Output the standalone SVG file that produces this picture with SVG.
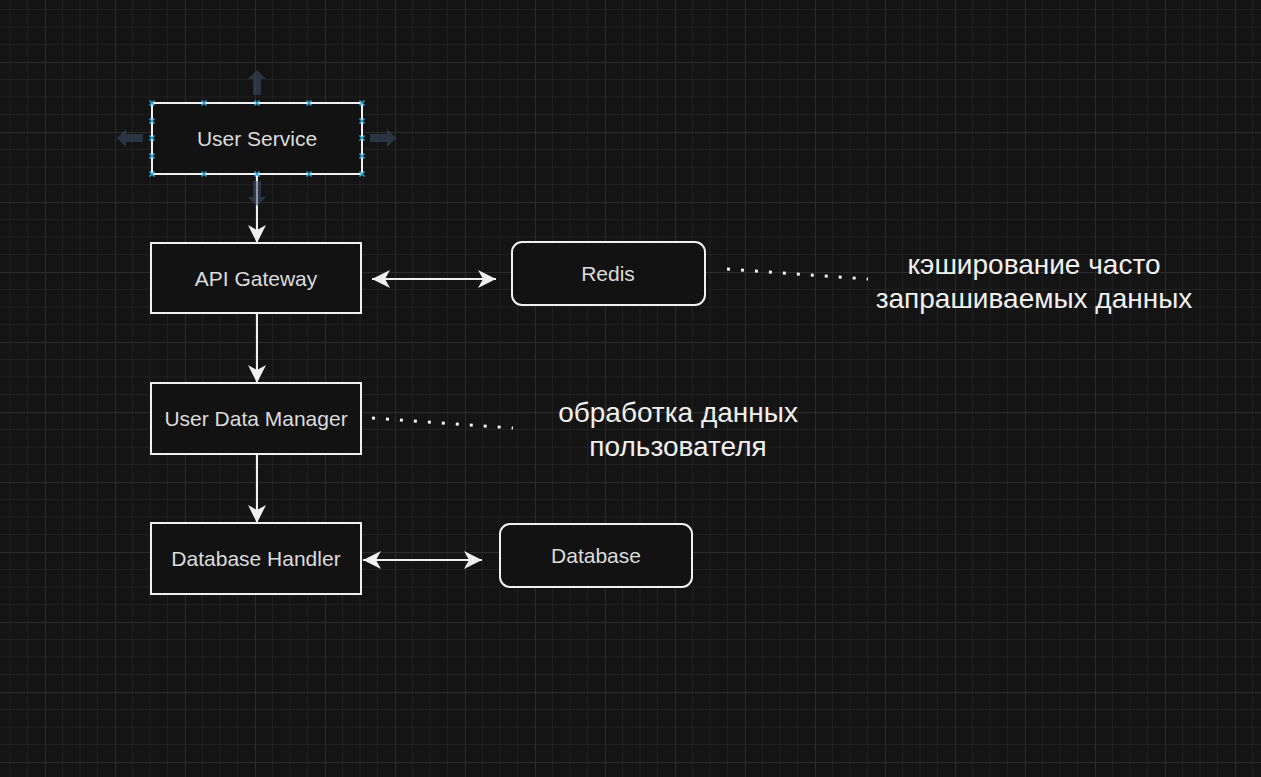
<svg xmlns="http://www.w3.org/2000/svg" width="1261" height="777" viewBox="0 0 1261 777">
<defs>
<pattern id="grid" patternUnits="userSpaceOnUse" x="45" y="62" width="70" height="70">
<path d="M17.5,0V70M35,0V70M52.5,0V70M0,17.5H70M0,35H70M0,52.5H70" stroke="#202020" stroke-width="1" fill="none"/>
<path d="M0.5,0V70M0,0.5H70" stroke="#2c2c2c" stroke-width="1" fill="none"/>
</pattern>
<marker id="arr" viewBox="0 0 18 18" refX="18" refY="9" markerWidth="18" markerHeight="18" markerUnits="userSpaceOnUse" orient="auto-start-reverse">
<path d="M0,0 L18,9 L0,18 L5,9 Z" fill="#f0f0f0"/>
</marker>
<g id="hx"><path d="M-2.5,-2.5L2.5,2.5M-2.5,2.5L2.5,-2.5" stroke="#2ea6e0" stroke-width="1.5"/></g>
</defs>
<style>
.box{fill:#121212;stroke:#f0f0f0;stroke-width:2}
.lbl{font-family:"Liberation Sans",Arial,sans-serif;font-size:21px;fill:#dcdcdc;text-anchor:middle}
.note{font-family:"Liberation Sans",Arial,sans-serif;font-size:28px;fill:#f0f0f0;text-anchor:middle}
.edge{stroke:#f0f0f0;stroke-width:2;fill:none}
.dot{stroke:#f0f0f0;stroke-width:3;fill:none;stroke-dasharray:3 11}
.hover{fill:#3a5068;opacity:0.55}
</style>
<rect width="1261" height="777" fill="#141414"/>
<rect width="1261" height="777" fill="url(#grid)"/>

<g id="connectors">
<line class="edge" x1="257" y1="174" x2="257" y2="243" marker-end="url(#arr)"/>
<line class="edge" x1="257" y1="313" x2="257" y2="383" marker-end="url(#arr)"/>
<line class="edge" x1="257" y1="454" x2="257" y2="523" marker-end="url(#arr)"/>
<line class="edge" x1="372" y1="279" x2="496" y2="279" marker-start="url(#arr)" marker-end="url(#arr)"/>
<line class="edge" x1="363" y1="560" x2="482" y2="560" marker-start="url(#arr)" marker-end="url(#arr)"/>
<line class="dot" x1="727" y1="269" x2="868" y2="279"/>
<line class="dot" x1="372" y1="418" x2="513" y2="428"/>
</g>

<g id="user-service">
<rect class="box" x="152" y="103" width="210" height="71"/>
<text class="lbl" x="257" y="146">User Service</text>
</g>
<g id="selection">
<path class="hover" d="M257,70 L266,79 L261,79 L261,95 L253,95 L253,79 L248,79 Z"/>
<path class="hover" d="M257,206 L266,197 L261,197 L261,181 L253,181 L253,197 L248,197 Z"/>
<path class="hover" d="M117,138 L126,129 L126,134 L143,134 L143,142 L126,142 L126,147 Z"/>
<path class="hover" d="M396,138 L387,129 L387,134 L370,134 L370,142 L387,142 L387,147 Z"/>
<use href="#hx" x="152" y="103"/><use href="#hx" x="204" y="103"/><use href="#hx" x="257" y="103"/><use href="#hx" x="309" y="103"/><use href="#hx" x="362" y="103"/>
<use href="#hx" x="152" y="174"/><use href="#hx" x="204" y="174"/><use href="#hx" x="257" y="174"/><use href="#hx" x="309" y="174"/><use href="#hx" x="362" y="174"/>
<use href="#hx" x="152" y="121"/><use href="#hx" x="152" y="138"/><use href="#hx" x="152" y="156"/>
<use href="#hx" x="362" y="121"/><use href="#hx" x="362" y="138"/><use href="#hx" x="362" y="156"/>
</g>

<g id="api-gateway">
<rect class="box" x="151" y="243" width="210" height="70"/>
<text class="lbl" x="256" y="286">API Gateway</text>
</g>
<g id="redis">
<rect class="box" x="512" y="242" width="193" height="63" rx="10"/>
<text class="lbl" x="608" y="281">Redis</text>
</g>
<g id="user-data-manager">
<rect class="box" x="151" y="383" width="210" height="71"/>
<text class="lbl" x="256" y="426">User Data Manager</text>
</g>
<g id="database-handler">
<rect class="box" x="151" y="523" width="210" height="71"/>
<text class="lbl" x="256" y="566">Database Handler</text>
</g>
<g id="database">
<rect class="box" x="500" y="524" width="192" height="63" rx="10"/>
<text class="lbl" x="596" y="563">Database</text>
</g>
<g id="note-redis">
<text class="note" x="1034" y="274">кэширование часто</text>
<text class="note" x="1034" y="308">запрашиваемых данных</text>
</g>
<g id="note-udm">
<text class="note" x="678" y="422">обработка данных</text>
<text class="note" x="678" y="456">пользователя</text>
</g>
</svg>
